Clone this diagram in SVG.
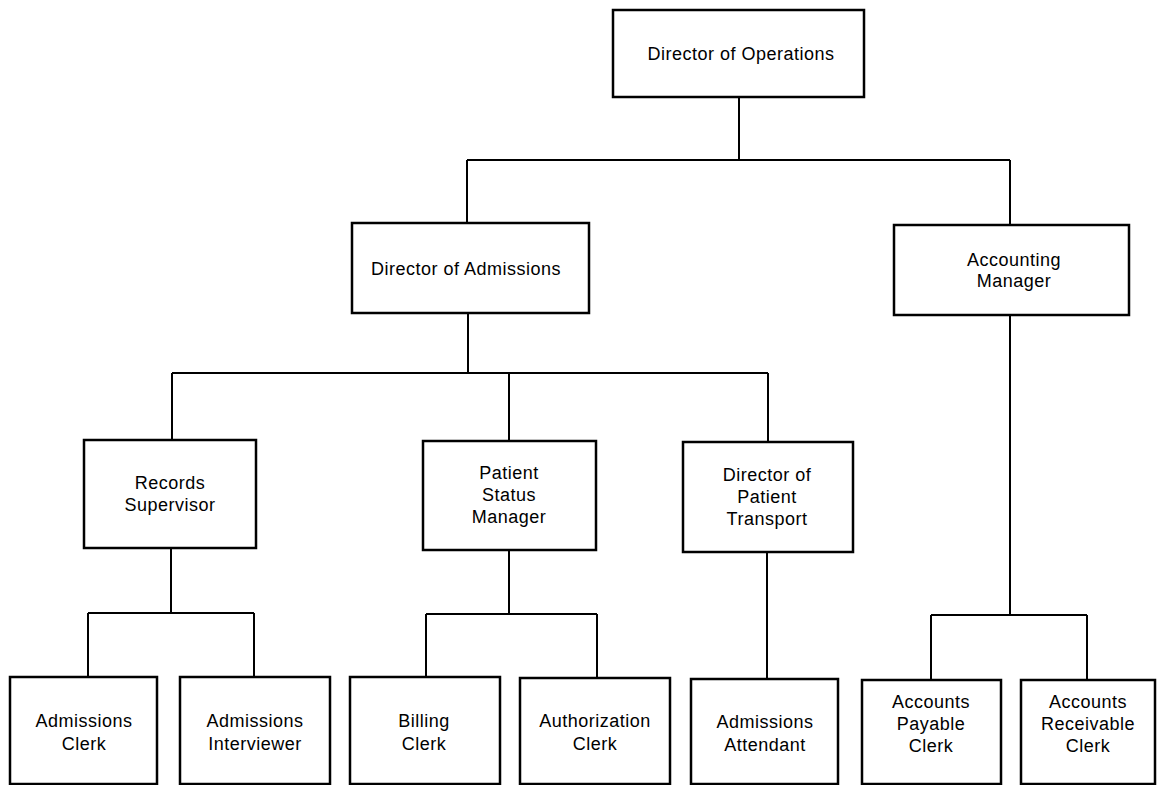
<svg xmlns="http://www.w3.org/2000/svg" width="1161" height="785" viewBox="0 0 1161 785">
<style>
.box{fill:#fff;stroke:#000;stroke-width:2.5}
.ln{fill:none;stroke:#000;stroke-width:2}
text{font-family:"Liberation Sans",Arial,sans-serif;font-size:18px;letter-spacing:0.5px;fill:#000;text-anchor:middle}
</style>
<rect width="1161" height="785" fill="#fff"/>
<g id="connectors">
<path class="ln" d="M739 97V160M467 160H1010M467 160V223M1010 160V225"/>
<path class="ln" d="M468 313V373M172 373H768M172 373V440M509 373V441M768 373V442"/>
<path class="ln" d="M171 548V613M88 613H254M88 613V677M254 613V677"/>
<path class="ln" d="M509 550V614M426 614H597M426 614V677M597 614V678"/>
<path class="ln" d="M767 552V679"/>
<path class="ln" d="M1010 315V615M931 615H1087M931 615V680M1087 615V680"/>
</g>
<g id="director-operations"><rect class="box" x="613" y="10" width="251" height="87"/><text x="741" y="60">Director of Operations</text></g>
<g id="director-admissions"><rect class="box" x="352" y="223" width="237" height="90"/><text x="466" y="275">Director of Admissions</text></g>
<g id="accounting-manager"><rect class="box" x="894" y="225" width="235" height="90"/><text x="1014" y="266">Accounting</text><text x="1014" y="287">Manager</text></g>
<g id="records-supervisor"><rect class="box" x="84" y="440" width="172" height="108"/><text x="170" y="489">Records</text><text x="170" y="511">Supervisor</text></g>
<g id="patient-status-manager"><rect class="box" x="423" y="441" width="173" height="109"/><text x="509" y="479">Patient</text><text x="509" y="501">Status</text><text x="509" y="523">Manager</text></g>
<g id="director-patient-transport"><rect class="box" x="683" y="442" width="170" height="110"/><text x="767" y="481">Director of</text><text x="767" y="503">Patient</text><text x="767" y="525">Transport</text></g>
<g id="admissions-clerk"><rect class="box" x="10" y="677" width="147" height="107"/><text x="84" y="727">Admissions</text><text x="84" y="750">Clerk</text></g>
<g id="admissions-interviewer"><rect class="box" x="180" y="677" width="150" height="107"/><text x="255" y="727">Admissions</text><text x="255" y="750">Interviewer</text></g>
<g id="billing-clerk"><rect class="box" x="350" y="677" width="150" height="107"/><text x="424" y="727">Billing</text><text x="424" y="750">Clerk</text></g>
<g id="authorization-clerk"><rect class="box" x="520" y="678" width="150" height="106"/><text x="595" y="727">Authorization</text><text x="595" y="750">Clerk</text></g>
<g id="admissions-attendant"><rect class="box" x="691" y="679" width="147" height="105"/><text x="765" y="728">Admissions</text><text x="765" y="751">Attendant</text></g>
<g id="accounts-payable-clerk"><rect class="box" x="862" y="680" width="139" height="104"/><text x="931" y="708">Accounts</text><text x="931" y="730">Payable</text><text x="931" y="752">Clerk</text></g>
<g id="accounts-receivable-clerk"><rect class="box" x="1021" y="680" width="134" height="104"/><text x="1088" y="708">Accounts</text><text x="1088" y="730">Receivable</text><text x="1088" y="752">Clerk</text></g>
</svg>
